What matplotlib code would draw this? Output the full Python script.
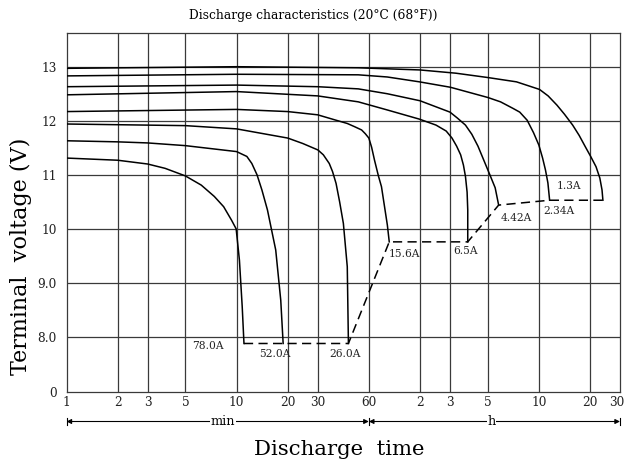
import matplotlib
matplotlib.use("Agg")
import matplotlib.pyplot as plt
from matplotlib.transforms import blended_transform_factory, ScaledTranslation

plt.rcParams['font.family'] = ['DejaVu Serif']

# ---- data (time in minutes, voltage in V) ----
t_78 = [1, 2, 3, 3.8, 5, 6.2, 7.4, 8.4, 9.35, 9.95, 10.4, 10.8, 11.06]
v_78 = [11.31, 11.27, 11.20, 11.12, 10.98, 10.81, 10.60, 10.41, 10.16, 10.0, 9.42, 8.56, 7.88]

t_52 = [1, 2, 3, 5, 10, 11.5, 12.3, 13.2, 14.1, 15.2, 17.0, 18.2, 18.8]
v_52 = [11.63, 11.61, 11.59, 11.54, 11.43, 11.34, 11.21, 11.0, 10.72, 10.35, 9.61, 8.68, 7.88]

t_26 = [1, 5, 10, 20, 24.5, 30.1, 32.4, 35.1, 36.7, 38.5, 40.4, 42.5, 44.8, 45.5]
v_26 = [11.94, 11.91, 11.85, 11.68, 11.58, 11.46, 11.37, 11.21, 11.06, 10.84, 10.50, 10.10, 9.30, 7.88]

t_156 = [1, 10, 20, 30, 38.5, 44.8, 49.5, 54.4, 57.2, 60, 62.3, 64.8, 68.3, 71.2, 74.3, 77.1, 79.1]
v_156 = [12.17, 12.21, 12.17, 12.11, 12.01, 11.95, 11.89, 11.83, 11.76, 11.68, 11.51, 11.27, 10.98, 10.78, 10.40, 10.07, 9.76]

t_65 = [1, 10, 30, 52, 77, 119, 149, 171, 185, 197, 208, 216, 222, 227, 229, 229]
v_65 = [12.48, 12.54, 12.46, 12.35, 12.20, 12.03, 11.92, 11.81, 11.68, 11.53, 11.37, 11.18, 10.97, 10.68, 10.35, 9.76]

t_442 = [1, 10, 30, 52, 77, 120, 180, 199, 222, 242, 263, 289, 309, 332, 348]
v_442 = [12.63, 12.66, 12.63, 12.59, 12.50, 12.37, 12.16, 12.05, 11.92, 11.75, 11.53, 11.22, 11.00, 10.76, 10.44]

t_234 = [1, 10, 52, 77, 119, 181, 301, 357, 422, 463, 512, 558, 600, 631, 656, 678, 694]
v_234 = [12.83, 12.86, 12.85, 12.81, 12.72, 12.62, 12.43, 12.35, 12.23, 12.16, 12.01, 11.78, 11.55, 11.31, 11.09, 10.85, 10.53]

t_13 = [1, 10, 52, 120, 195, 300, 443, 605, 680, 766, 849, 948, 1035, 1125, 1210, 1301, 1370, 1411, 1428]
v_13 = [12.97, 13.0, 12.98, 12.94, 12.88, 12.80, 12.72, 12.58, 12.46, 12.29, 12.12, 11.92, 11.73, 11.52, 11.34, 11.15, 10.94, 10.72, 10.53]

cut_t = [11.06, 45.5, 79.1, 229, 348, 694, 1428]
cut_v = [7.88, 7.88, 9.76, 9.76, 10.44, 10.53, 10.53]

labels = ['78.0A', '52.0A', '26.0A', '15.6A', '6.5A', '4.42A', '2.34A', '1.3A']
label_t = [6.8, 16.8, 43.6, 97, 222, 444, 791, 899]
label_v = [7.83, 7.68, 7.69, 9.54, 9.59, 10.20, 10.34, 10.79]

xticks = [1, 2, 3, 5, 10, 20, 30, 60, 120, 180, 300, 600, 1200, 1800]
xticklabels = ['1', '2', '3', '5', '10', '20', '30', '60', '2', '3', '5', '10', '20', '30']
yticks = [6.977, 8, 9, 10, 11, 12, 13]
yticklabels = ['0', '8.0', '9.0', '10', '11', '12', '13']

# ---- figure ----
fig = plt.figure(figsize=(6.26, 4.66), dpi=100)
L, R, T, B = 66.5, 620, 33.3, 392.3
W, H = 626, 466
ax = fig.add_axes([L / W, 1 - B / H, (R - L) / W, (B - T) / H])
ax.set_xscale('log')
ax.set_xlim(1, 1800)
ax.set_ylim(6.977, 13.618)

ax.set_xticks(xticks)
ax.set_xticklabels(xticklabels)
ax.minorticks_off()
ax.set_yticks(yticks)
ax.set_yticklabels(yticklabels)
ax.tick_params(axis='both', length=0, labelsize=8.7, colors='#222222')
ax.tick_params(axis='x', pad=3)
ax.tick_params(axis='y', pad=7)
last = ax.get_xticklabels()[-1]
last.set_transform(last.get_transform() + ScaledTranslation(-3 / 100, 0, fig.dpi_scale_trans))

gc = '#3a3a3a'
for x in xticks[1:-1]:
    ax.axvline(x, color=gc, lw=0.9, zorder=1)
for y in [8, 9, 10, 11, 12, 13]:
    ax.axhline(y, color=gc, lw=0.9, zorder=1)
for s in ax.spines.values():
    s.set_color(gc)
    s.set_linewidth(0.9)

for t, v in [(t_78, v_78), (t_52, v_52), (t_26, v_26), (t_156, v_156),
             (t_65, v_65), (t_442, v_442), (t_234, v_234), (t_13, v_13)]:
    ax.plot(t, v, color='black', lw=1.1, zorder=3, solid_joinstyle='round')

ax.plot(cut_t, cut_v, color='black', lw=1.1, dashes=(6, 3.5), zorder=3)

for s, x, y in zip(labels, label_t, label_v):
    ax.text(x, y, s, ha='center', va='center', fontsize=7.7, color='#222222',
            zorder=4)

# ---- min / h arrows ----
trans = blended_transform_factory(ax.transData, ax.transAxes)
ya = -(421.5 - B) / (B - T)
ap = dict(arrowstyle='<|-|>', lw=0.8, color='black', shrinkA=0, shrinkB=0,
          mutation_scale=7)
ax.annotate('', xy=(1, ya), xytext=(60, ya), xycoords=trans, textcoords=trans,
            arrowprops=ap, annotation_clip=False)
ax.annotate('', xy=(60, ya), xytext=(1800, ya), xycoords=trans, textcoords=trans,
            arrowprops=ap, annotation_clip=False)
bh = 3.5 / (B - T)
for x in [1, 60, 1800]:
    ax.plot([x, x], [ya - bh, ya + bh], color='black', lw=0.8,
            transform=trans, clip_on=False)
ax.text(8.3, ya, 'min', transform=trans, ha='center', va='center', fontsize=9.3,
        bbox=dict(facecolor='white', edgecolor='none', pad=0.5))
ax.text(315, ya, 'h', transform=trans, ha='center', va='center', fontsize=9.3,
        bbox=dict(facecolor='white', edgecolor='none', pad=0.5))

# ---- titles ----
fig.text(0.5, 1 - 16 / H, 'Discharge characteristics (20°C (68°F))',
         ha='center', va='center', fontsize=8.8)
fig.text(339 / W, 1 - 455 / H, 'Discharge  time', ha='center', va='baseline',
         fontsize=15.3)
fig.text(21 / W, 1 - 256 / H, 'Terminal  voltage (V)', ha='center', va='center',
         rotation=90, fontsize=16)

fig.savefig('out.png', dpi=100, facecolor='white')
